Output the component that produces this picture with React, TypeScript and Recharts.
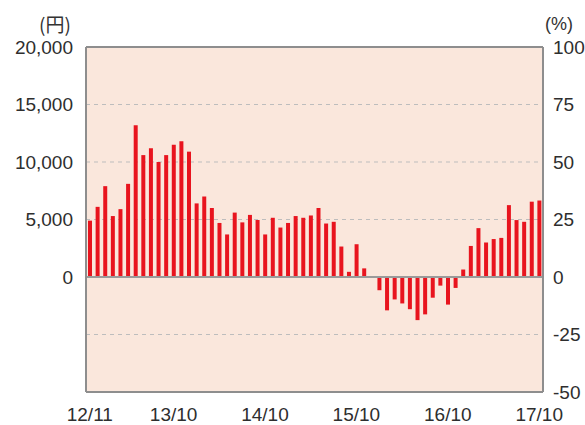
import React from 'react';
import { ComposedChart, Bar, Line, XAxis, YAxis, CartesianGrid, ReferenceLine } from 'recharts';

const months = [
  '12/11', '12/12',
  '13/01', '13/02', '13/03', '13/04', '13/05', '13/06', '13/07', '13/08', '13/09', '13/10', '13/11', '13/12',
  '14/01', '14/02', '14/03', '14/04', '14/05', '14/06', '14/07', '14/08', '14/09', '14/10', '14/11', '14/12',
  '15/01', '15/02', '15/03', '15/04', '15/05', '15/06', '15/07', '15/08', '15/09', '15/10', '15/11', '15/12',
  '16/01', '16/02', '16/03', '16/04', '16/05', '16/06', '16/07', '16/08', '16/09', '16/10', '16/11', '16/12',
  '17/01', '17/02', '17/03', '17/04', '17/05', '17/06', '17/07', '17/08', '17/09', '17/10',
];

const values = [
  4900, 6100,
  7900, 5300, 5900, 8100, 13200, 10600, 11200, 10000, 10600, 11500, 11800, 10900,
  6400, 7000, 6000, 4700, 3700, 5600, 4750, 5400, 4950, 3700, 5150, 4300,
  4700, 5300, 5150, 5350, 6000, 4650, 4800, 2650, 450, 2850, 750, 0,
  -1150, -2900, -1950, -2300, -2800, -3750, -3250, -1800, -750, -2400, -950, 650,
  2700, 4250, 3000, 3300, 3400, 6250, 4950, 4800, 6550, 6650,
];

const xTicks = ['12/11', '13/10', '14/10', '15/10', '16/10', '17/10'];
const leftTicks = [-10000, -5000, 0, 5000, 10000, 15000, 20000];
const rightTicks = [-50, -25, 0, 25, 50, 75, 100];

const data = months.map((m, i) => ({ month: m, value: values[i], pct: null as number | null }));

const FONT = '"Liberation Sans", Arial, sans-serif';
const tickStyle = { fill: '#2e2e2e', fontSize: 19, fontFamily: FONT };
const BORDER = '#8e8e8e';

export default function App() {
  return (
    <div style={{ position: 'absolute', left: 0, top: 0, width: 585, height: 425, background: '#fff' }}>
      <div style={{ position: 'absolute', left: 39, top: 13, fontSize: 19, lineHeight: '22px', fontFamily: '"Noto Sans CJK JP", ' + FONT, color: '#333' }}>(円)</div>
      <div style={{ position: 'absolute', left: 545, top: 14, fontSize: 18, lineHeight: '20px', fontFamily: FONT, color: '#333' }}>(%)</div>
      <ComposedChart
        width={585}
        height={425}
        data={data}
        margin={{ top: 47, right: 0, bottom: 0, left: 0 }}
        barSize={4}
      >
        <CartesianGrid
          yAxisId="left"
          vertical={false}
          stroke="#bdbdbd"
          strokeDasharray="4 4"
          fill="#fae7dc"
          fillOpacity={1}
        />
        <XAxis
          dataKey="month"
          ticks={xTicks}
          interval={0}
          height={33}
          tickLine={false}
          tickMargin={10}
          axisLine={{ stroke: BORDER, strokeWidth: 2 }}
          tick={tickStyle}
        />
        <YAxis
          yAxisId="left"
          orientation="left"
          width={86}
          domain={[-10000, 20000]}
          ticks={leftTicks}
          interval={0}
          tickLine={false}
          tickMargin={7}
          axisLine={{ stroke: BORDER, strokeWidth: 2 }}
          tick={tickStyle}
          tickFormatter={(v: number) => (v < 0 ? '' : v.toLocaleString('en-US'))}
        />
        <YAxis
          yAxisId="right"
          orientation="right"
          width={42}
          type="number"
          domain={[-50, 100]}
          ticks={rightTicks}
          interval={0}
          allowDataOverflow
          tickLine={false}
          tickMargin={4}
          axisLine={{ stroke: BORDER, strokeWidth: 2 }}
          tick={tickStyle}
        />
        <Bar yAxisId="left" dataKey="value" fill="#e8141e" isAnimationActive={false} />
        <Line yAxisId="right" dataKey="pct" stroke="none" dot={false} activeDot={false} legendType="none" isAnimationActive={false} />
        <ReferenceLine yAxisId="left" y={0} stroke="#9a9a9a" strokeWidth={2} />
        <ReferenceLine yAxisId="left" y={20000} stroke={BORDER} strokeWidth={2} />
      </ComposedChart>
    </div>
  );
}
